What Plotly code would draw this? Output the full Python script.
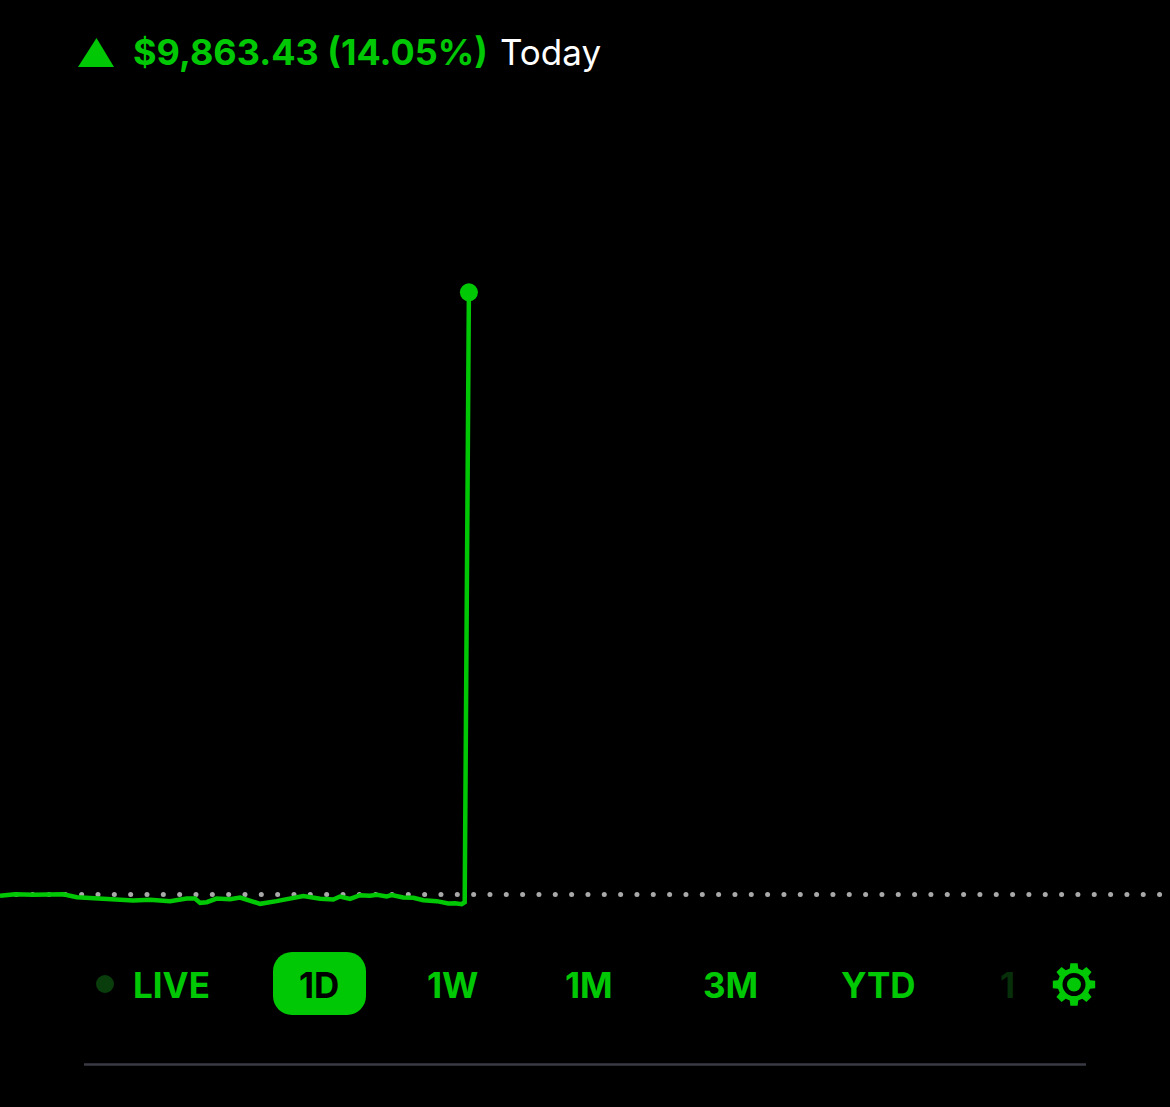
import math
import plotly.graph_objects as go

# Portfolio value over the day
minutes = [0, 5, 11.1, 16.7, 21.1, 25.6, 32.2, 38.9, 44.4, 50, 56.7, 62.2, 65, 66.7,
           68.9, 72.2, 76.7, 80, 82.8, 86.7, 92.2, 96.7, 101.1, 106.7, 111.1, 113.3,
           116.7, 120, 123.3, 125.6, 128.9, 130.6, 134.4, 137.8, 141.1, 145.6, 149.4,
           151.7, 153.9, 154.9, 156.3]
values = [70180, 70207, 70197, 70197, 70207, 70158, 70136, 70131, 70104, 70115, 70093,
          70136, 70136, 70065, 70076, 70136, 70126, 70153, 70104, 70049, 70093, 70136,
          70175, 70131, 70120, 70169, 70131, 70191, 70180, 70197, 70169, 70191, 70153,
          70147, 70109, 70093, 70055, 70060, 70044, 70076, 80065]
prev_close = 70202
change_text = "$9,863.43 (14.05%)"
period_text = "Today"
range_labels = ["LIVE", "1D", "1W", "1M", "3M", "YTD"]
range_centers = [171, 319, 452.5, 589, 730, 878.5]

W, H = 1170, 1107
GREEN = "#00c805"


def px(x):
    return x / W


def py(y):
    return 1 - y / H


def circle(cx, cy, r, color):
    return dict(type="circle", xref="paper", yref="paper", x0=px(cx - r), x1=px(cx + r),
                y0=py(cy + r), y1=py(cy - r), fillcolor=color, line_width=0, layer="above")


def gear_path(cx, cy, r_out, r_in, teeth=8):
    pts = []
    step = 2 * math.pi / teeth
    for i in range(teeth):
        a = i * step - math.pi / 2
        for r, da in [(r_in, -0.26), (r_out, -0.17), (r_out, 0.17), (r_in, 0.26)]:
            pts.append((cx + r * math.cos(a + da), cy + r * math.sin(a + da)))
    return "M " + " L ".join(f"{px(x):.5f},{py(y):.5f}" for x, y in pts) + " Z"


def round_rect(x0, y0, x1, y1, r):
    c = r * 0.45
    pts = [f"M {px(x0 + r):.5f},{py(y0):.5f}", f"L {px(x1 - r):.5f},{py(y0):.5f}",
           f"C {px(x1 - c):.5f},{py(y0):.5f} {px(x1):.5f},{py(y0 + c):.5f} {px(x1):.5f},{py(y0 + r):.5f}",
           f"L {px(x1):.5f},{py(y1 - r):.5f}",
           f"C {px(x1):.5f},{py(y1 - c):.5f} {px(x1 - c):.5f},{py(y1):.5f} {px(x1 - r):.5f},{py(y1):.5f}",
           f"L {px(x0 + r):.5f},{py(y1):.5f}",
           f"C {px(x0 + c):.5f},{py(y1):.5f} {px(x0):.5f},{py(y1 - c):.5f} {px(x0):.5f},{py(y1 - r):.5f}",
           f"L {px(x0):.5f},{py(y0 + r):.5f}",
           f"C {px(x0):.5f},{py(y0 + c):.5f} {px(x0 + c):.5f},{py(y0):.5f} {px(x0 + r):.5f},{py(y0):.5f} Z"]
    return " ".join(pts)


fig = go.Figure()

# dotted previous close line
dot_x = [k * 5.444 for k in range(1, 72)]
fig.add_trace(go.Scatter(x=dot_x, y=[prev_close] * len(dot_x), mode="markers",
                         marker=dict(color="#a9a9a9", size=5), hoverinfo="skip"))
fig.add_trace(go.Scatter(x=minutes, y=values, mode="lines",
                         line=dict(color=GREEN, width=4.5, shape="linear"), hoverinfo="skip"))
fig.add_trace(go.Scatter(x=minutes[-1:], y=values[-1:], mode="markers",
                         marker=dict(color=GREEN, size=18), hoverinfo="skip"))

shapes = [
    # header triangle
    dict(type="path", xref="paper", yref="paper", fillcolor=GREEN, line_width=0,
         path=f"M {px(96.5):.5f},{py(38):.5f} L {px(114):.5f},{py(67):.5f} L {px(78):.5f},{py(67):.5f} Z"),
    # selected range pill
    dict(type="path", xref="paper", yref="paper", fillcolor=GREEN, line_width=0,
         path=round_rect(273, 952, 366, 1015, 19)),
    circle(105, 984, 9, "#0a3d0c"),
    # settings gear
    dict(type="path", xref="paper", yref="paper", fillcolor=GREEN, line_width=0,
         path=gear_path(1074, 984.5, 21.5, 16.5)),
    circle(1074, 984.5, 11.5, "#000000"),
    circle(1074, 984.5, 7, GREEN),
    # bottom divider
    dict(type="line", xref="paper", yref="paper", x0=px(84), x1=px(1086), y0=py(1064.5),
         y1=py(1064.5), line=dict(color="#3a3a44", width=2.5)),
]

annotations = [
    dict(x=px(133), y=py(52.5), text=f"<b>{change_text}</b>", xanchor="left",
         font=dict(family="Inter", size=36, color=GREEN)),
    dict(x=px(499.5), y=py(52.5), text=period_text, xanchor="left",
         font=dict(family="Inter", size=35, color="#ffffff")),
    # clipped label fading out at the right of the scroller
    dict(x=px(1000), y=py(984.5), text="<b>1</b>", xanchor="left",
         font=dict(family="Inter", size=35, color="#07300a")),
]
for label, center in zip(range_labels, range_centers):
    annotations.append(dict(x=px(center), y=py(984.5), text=f"<b>{label}</b>", xanchor="center",
                            font=dict(family="Inter", size=35,
                                      color="#000000" if label == "1D" else GREEN)))
for a in annotations:
    a.update(xref="paper", yref="paper", showarrow=False, yanchor="middle",
             borderpad=0, borderwidth=0)

fig.update_layout(
    width=W, height=H, margin=dict(l=0, r=0, t=0, b=0),
    paper_bgcolor="#000000", plot_bgcolor="#000000", showlegend=False,
    xaxis=dict(range=[0, 390], visible=False, fixedrange=True),
    yaxis=dict(range=[66721, 84854], visible=False, fixedrange=True),
    shapes=shapes, annotations=annotations,
)

fig.write_html("out.html", config={"displayModeBar": False},
               post_script="document.body.style.margin='0';document.body.style.background='#000';")
